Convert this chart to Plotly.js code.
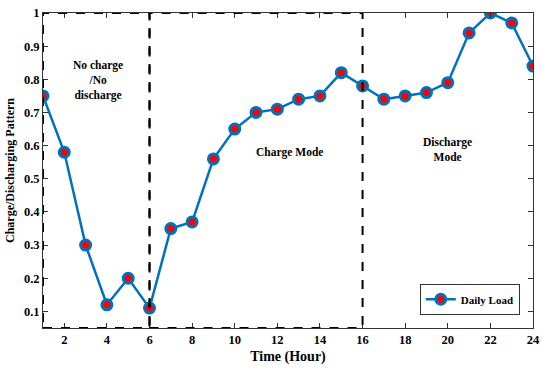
<!DOCTYPE html>
<html><head><meta charset="utf-8">
<script src="https://cdn.plot.ly/plotly-3.0.1.min.js"></script>
<style>body{margin:0;background:#fff}#c{width:550px;height:373px}</style>
</head><body><div id="c"></div>
<script>
const hours = [1,2,3,4,5,6,7,8,9,10,11,12,13,14,15,16,17,18,19,20,21,22,23,24];
const loadValues = [0.75,0.58,0.30,0.12,0.20,0.11,0.35,0.37,0.56,0.65,0.70,0.71,0.74,0.75,0.82,0.78,0.74,0.75,0.76,0.79,0.94,1.00,0.97,0.84];
const xTicks = [2,4,6,8,10,12,14,16,18,20,22,24];
const yTicks = [0.1,0.2,0.3,0.4,0.5,0.6,0.7,0.8,0.9,1];
const yTickLabels = ['0.1','0.2','0.3','0.4','0.5','0.6','0.7','0.8','0.9','1'];
const modeBounds = [1,6,16];
const modeLabels = ['No charge<br>/No<br>discharge','Charge Mode','Discharge<br>Mode'];
const labelX = [3.58,12.55,20.0];
const labelY = [0.795,0.578,0.587];

const font = {family:'Liberation Serif, Times New Roman, serif', color:'#000'};
const trace = {
  x: hours, y: loadValues, type:'scatter', mode:'lines+markers', name:'Daily Load',
  line:{color:'#0072BD', width:2.5},
  marker:{color:'#ff0000', size:10, line:{color:'#0072BD', width:3}}
};
const shapes = [];
for (let i=0;i<modeBounds.length-1;i++){
  shapes.push({type:'rect', xref:'x', yref:'y', x0:modeBounds[i], x1:modeBounds[i+1], y0:0.05, y1:1,
    line:{color:'#000', width:2, dash:'dash'}, layer:'above'});
}
const annotations = modeLabels.map((t,i)=>({x:labelX[i], y:labelY[i], xref:'x', yref:'y', text:'<b>'+t+'</b>',
  showarrow:false, font:Object.assign({}, font, {size:11.5})}));
const axisCommon = {showline:true, linecolor:'#333', linewidth:1, mirror:'allticks', ticks:'inside', ticklen:5,
  tickcolor:'#333', showgrid:false, zeroline:false, tickfont:Object.assign({}, font, {size:12.5, weight:'bold'})};
const layout = {
  width:550, height:373, margin:{l:43, r:17, t:13, b:45},
  paper_bgcolor:'#fff', plot_bgcolor:'#fff',
  font: font,
  xaxis:Object.assign({}, axisCommon, {range:[1,24], tickvals:xTicks,
    title:{text:'<b>Time (Hour)</b>', font:Object.assign({}, font, {size:14}), standoff:5}}),
  yaxis:Object.assign({}, axisCommon, {range:[0.05,1], tickvals:yTicks, ticktext:yTickLabels,
    title:{text:'<b>Charge/Discharging Pattern</b>', font:Object.assign({}, font, {size:12}), standoff:6}}),
  shapes: shapes, annotations: annotations,
  showlegend:true,
  legend:{x:0.973, y:0.042, xanchor:'right', yanchor:'bottom', bgcolor:'#fff', bordercolor:'#333', borderwidth:1,
    font:Object.assign({}, font, {size:11, weight:'bold'}), itemwidth:30, tracegroupgap:0}
};
Plotly.newPlot('c', [trace], layout, {displayModeBar:false, staticPlot:true});
</script></body></html>
